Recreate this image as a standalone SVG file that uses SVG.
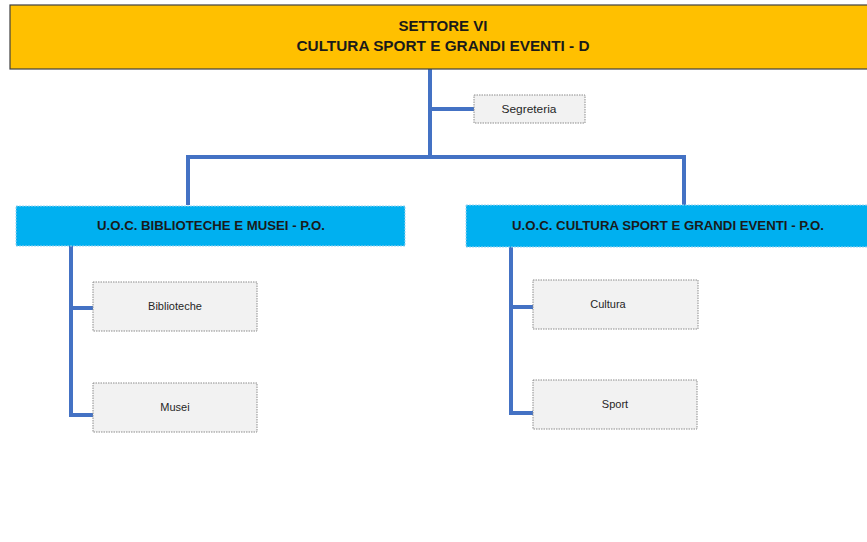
<svg xmlns="http://www.w3.org/2000/svg" width="867" height="542" viewBox="0 0 867 542">
<style>
text{font-family:"Liberation Sans",Arial,sans-serif;fill:#262626;text-anchor:middle;dominant-baseline:central}
.t{font-weight:bold;font-size:14px;fill:#1a1a1a}
.u{font-weight:bold;font-size:13px;fill:#1a1a1a}
.s{font-size:11px}
.box{fill:#F2F2F2;stroke:#8c8c8c;stroke-width:1;stroke-dasharray:1.5 1}
.uoc{fill:#00B0F0;stroke:#9dd3ee;stroke-width:1;stroke-dasharray:2 1}
.c{fill:none;stroke:#4472C4;stroke-width:4;stroke-linejoin:miter}
</style>
<rect width="867" height="542" fill="#ffffff"/>
<g id="connectors">
<polyline class="c" points="430,69 430,157"/>
<polyline class="c" points="430,109 474,109"/>
<polyline class="c" points="188,205 188,157 684,157 684,205"/>
<polyline class="c" points="71,246 71,415 93,415"/>
<polyline class="c" points="71,308 93,308"/>
<polyline class="c" points="511,247 511,413 533,413"/>
<polyline class="c" points="511,307 533,307"/>
</g>
<g id="settore">
<rect x="10" y="5" width="862" height="64" fill="#FFC000" stroke="#404040" stroke-width="1.2"/>
<text class="t" x="443" y="26" textLength="89" lengthAdjust="spacingAndGlyphs">SETTORE VI</text>
<text class="t" x="443" y="46" textLength="293" lengthAdjust="spacingAndGlyphs">CULTURA SPORT E GRANDI EVENTI - D</text>
</g>
<g id="segreteria">
<rect class="box" x="474" y="95" width="111" height="28"/>
<text class="s" x="529" y="109" textLength="55" lengthAdjust="spacingAndGlyphs">Segreteria</text>
</g>
<g id="uoc-biblioteche">
<rect class="uoc" x="16" y="206" width="389" height="40"/>
<text class="u" x="211" y="225" textLength="228" lengthAdjust="spacingAndGlyphs">U.O.C. BIBLIOTECHE E MUSEI - P.O.</text>
</g>
<g id="uoc-cultura">
<rect class="uoc" x="466" y="205" width="406" height="42"/>
<text class="u" x="668" y="225" textLength="312" lengthAdjust="spacingAndGlyphs">U.O.C. CULTURA SPORT E GRANDI EVENTI - P.O.</text>
</g>
<g id="biblioteche">
<rect class="box" x="93" y="282" width="164" height="49"/>
<text class="s" x="175" y="306">Biblioteche</text>
</g>
<g id="musei">
<rect class="box" x="93" y="383" width="164" height="49"/>
<text class="s" x="175" y="407">Musei</text>
</g>
<g id="cultura">
<rect class="box" x="533" y="280" width="165" height="49"/>
<text class="s" x="608" y="304">Cultura</text>
</g>
<g id="sport">
<rect class="box" x="533" y="380" width="164" height="49"/>
<text class="s" x="615" y="404">Sport</text>
</g>
</svg>
